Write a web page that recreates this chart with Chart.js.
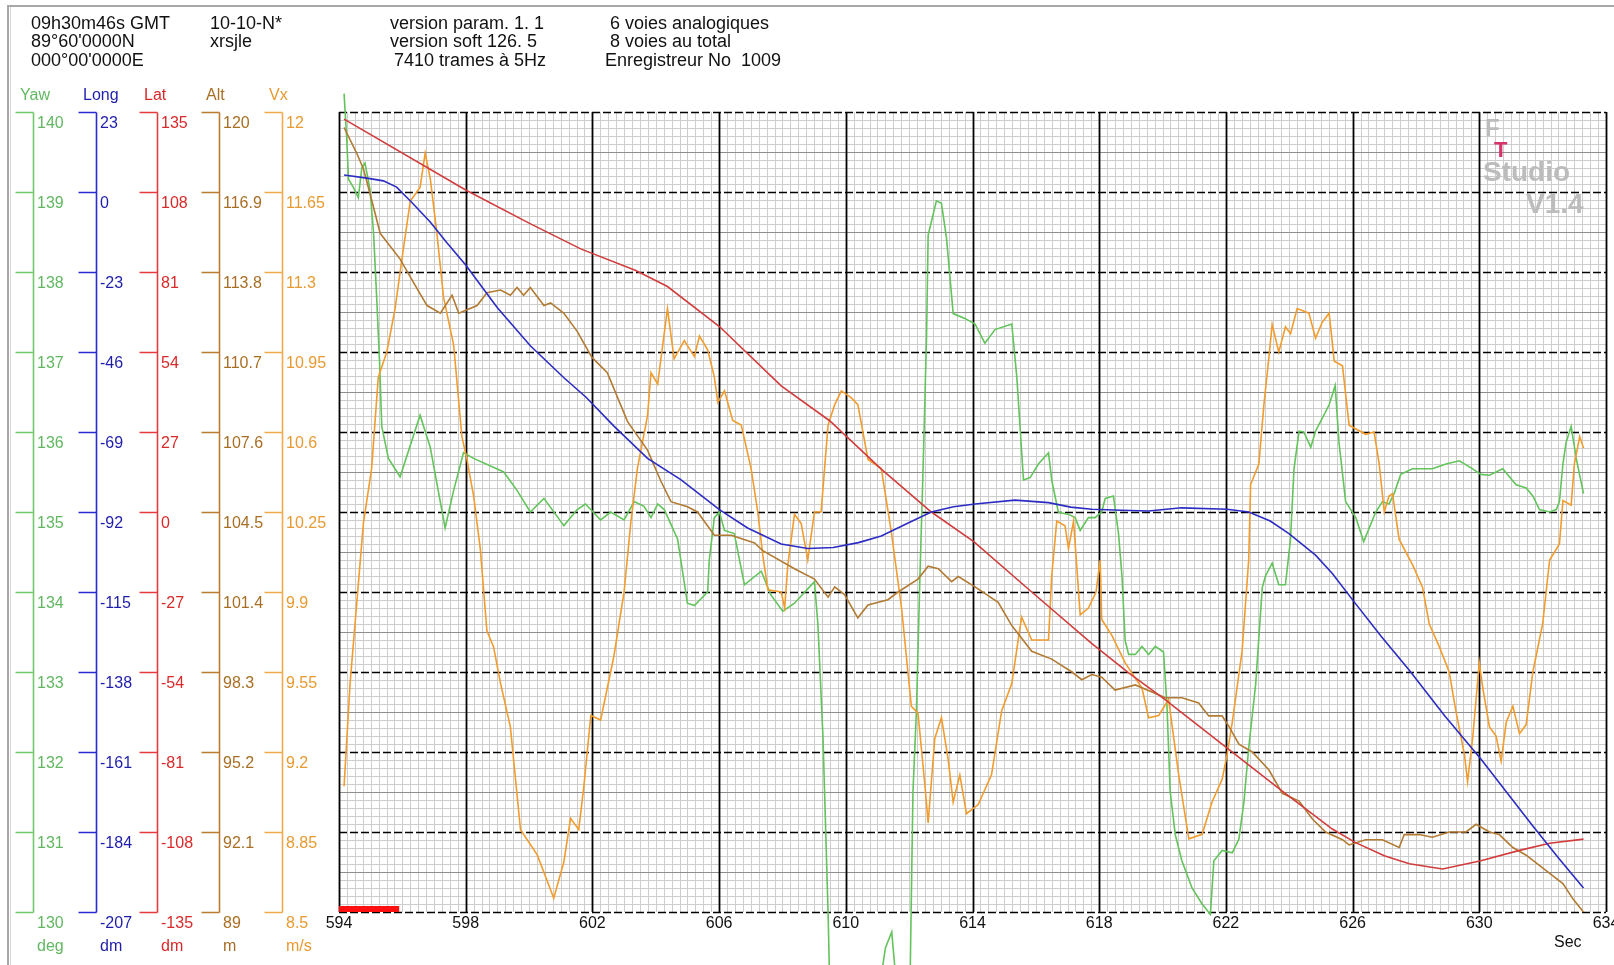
<!DOCTYPE html>
<html>
<head>
<meta charset="utf-8">
<title>Enregistreur 1009</title>
<script src="https://cdn.jsdelivr.net/npm/chart.js@4.4.1/dist/chart.umd.min.js"></script>
<style>
    html, body { margin: 0; padding: 0; background: #fff; }
    body { width: 1614px; height: 965px; position: relative; overflow: hidden;
           font-family: "Liberation Sans", Arial, sans-serif; }
    #scope { position: absolute; left: 0; top: 0; }
    .t { position: absolute; white-space: pre; line-height: 1; }
    .hd { font-size: 18px; color: #111; }
    .ax { font-size: 16px; }
    .logo { font-weight: bold; color: #bcbcbc; }
    .frame { position: absolute; background: #a8a8a8; }
</style>
</head>
<body>
<div class="frame" style="left:7px; top:5px; width:1607px; height:2px;"></div>
<div class="frame" style="left:7px; top:5px; width:2px; height:960px;"></div>
<div class="frame" style="left:10px; top:7px; width:1px; height:958px; background:#d8d8d8;"></div>

<canvas id="scope" width="1614" height="965"></canvas>

<!-- en-tête de l'enregistrement -->
<div class="t hd" style="left:31px; top:14px;">09h30m46s GMT</div>
<div class="t hd" style="left:31px; top:32px;">89°60'0000N</div>
<div class="t hd" style="left:31px; top:51px;">000°00'0000E</div>
<div class="t hd" style="left:210px; top:14px;">10-10-N*</div>
<div class="t hd" style="left:210px; top:32px;">xrsjle</div>
<div class="t hd" style="left:390px; top:14px;">version param. 1. 1</div>
<div class="t hd" style="left:390px; top:32px;">version soft 126. 5</div>
<div class="t hd" style="left:394px; top:51px;">7410 trames à 5Hz</div>
<div class="t hd" style="left:610px; top:14px;">6 voies analogiques</div>
<div class="t hd" style="left:610px; top:32px;">8 voies au total</div>
<div class="t hd" style="left:605px; top:51px;">Enregistreur No  1009</div>

<div class="t ax" style="left:1554px; top:934px; color:#111;">Sec</div>

<!-- logo -->
<div class="t logo" style="left:1485px; top:116px; font-size:24px;">F</div>
<div class="t logo" style="left:1494px; top:139px; font-size:22px; color:#d8336c;">T</div>
<div class="t logo" style="left:1483px; top:158px; font-size:28px;">Studio</div>
<div class="t logo" style="left:1526px; top:190px; font-size:28px;">V1.4</div>

<div id="axisText"></div>

<script>
// graduations des axes
const secTicks = [594, 598, 602, 606, 610, 614, 618, 622, 626, 630, 634];
const yawTicks  = [140, 139, 138, 137, 136, 135, 134, 133, 132, 131, 130];
const longTicks = [23, 0, -23, -46, -69, -92, -115, -138, -161, -184, -207];
const latTicks  = [135, 108, 81, 54, 27, 0, -27, -54, -81, -108, -135];
const altTicks  = [120, 116.9, 113.8, 110.7, 107.6, 104.5, 101.4, 98.3, 95.2, 92.1, 89];
const vxTicks   = [12, 11.65, 11.3, 10.95, 10.6, 10.25, 9.9, 9.55, 9.2, 8.85, 8.5];

// Yaw (deg)
const yawTime = [594.16, 594.24, 594.30, 594.45, 594.61, 594.72, 594.82, 594.98, 595.09, 595.19, 595.28, 595.35, 595.56, 595.93,
    596.56, 596.88, 597.35, 597.62, 597.93, 598.25, 599.2, 599.62, 600.04, 600.47, 601.1, 601.52, 601.78, 602.26, 602.58, 603.0,
    603.32, 603.63, 603.85, 604.06, 604.27, 604.69, 605.0, 605.22, 605.64, 605.69, 605.85, 606.01, 606.17, 606.48, 606.8, 607.33,
    607.64, 608.01, 608.38, 609.01, 609.12, 609.28, 609.44, 609.52, 610.9, 611.25, 611.45, 611.55, 611.65, 611.95, 612.02, 612.12,
    612.23, 612.34, 612.44, 612.55, 612.6, 612.86, 613.02, 613.18, 613.39, 613.76, 614.08, 614.39, 614.71, 615.24, 615.4, 615.61,
    615.82, 616.08, 616.4, 616.5, 616.71, 617.03, 617.24, 617.4, 617.66, 617.87, 618.08, 618.19, 618.45, 618.61, 618.72, 618.82,
    618.93, 619.14, 619.35, 619.56, 619.77, 620.03, 620.14, 620.24, 620.4, 620.61, 620.93, 621.25, 621.51, 621.62, 621.88, 622.2,
    622.41, 622.57, 622.72, 622.94, 623.15, 623.25, 623.46, 623.67, 623.88, 624.04, 624.15, 624.31, 624.46, 624.68, 624.83, 625.04,
    625.26, 625.45, 625.57, 625.78, 626.1, 626.35, 626.73, 626.94, 627.15, 627.31, 627.52, 627.89, 628.52, 628.95, 629.37, 629.79,
    630.05, 630.32, 630.74, 631.16, 631.48, 631.69, 631.9, 632.22, 632.43, 632.53, 632.64, 632.74, 632.9, 633.06, 633.29];
const yawValues = [140.23, 139.7, 139.16, 139.06, 138.93, 139.3, 139.36, 139.03, 138.49, 137.68, 136.88, 136.07, 135.67, 135.44,
    136.21, 135.81, 134.8, 135.27, 135.74, 135.67, 135.5, 135.27, 135.0, 135.17, 134.83, 135.03, 135.1, 134.9, 135.0, 134.9,
    135.13, 135.07, 134.93, 135.1, 135.03, 134.66, 133.86, 133.83, 134.0, 134.4, 134.93, 135.0, 134.77, 134.73, 134.09, 134.26,
    133.96, 133.76, 133.86, 134.13, 133.59, 132.18, 130.0, 128.6, 128.6, 129.55, 129.75, 129.3, 128.6, 128.6, 128.9, 131.5,
    132.52, 134.19, 135.54, 137.21, 138.46, 138.89, 138.86, 138.42, 137.48, 137.42, 137.35, 137.11, 137.28, 137.35, 136.68, 135.4,
    135.43, 135.6, 135.74, 135.4, 135.0, 134.97, 134.93, 134.77, 134.93, 134.93, 135.0, 135.17, 135.2, 134.73, 134.19, 133.39,
    133.22, 133.22, 133.32, 133.22, 133.32, 133.25, 132.58, 131.51, 130.97, 130.64, 130.3, 130.1, 129.97, 130.64, 130.77, 130.74,
    130.91, 131.38, 132.05, 132.85, 134.06, 134.2, 134.36, 134.09, 134.09, 134.66, 135.54, 136.01, 136.0, 135.81, 136.01, 136.17,
    136.34, 136.58, 135.87, 135.13, 134.93, 134.63, 135.0, 135.13, 135.1, 135.23, 135.47, 135.54, 135.54, 135.6, 135.64, 135.54,
    135.47, 135.46, 135.54, 135.34, 135.3, 135.2, 135.03, 135.0, 135.03, 135.13, 135.6, 135.87, 136.07, 135.67, 135.23];

// Long (dm)
const longTime = [594.16, 594.88, 595.4, 595.82, 596.3, 596.88, 597.4, 598.0, 599.0, 600.04, 601.1, 601.8, 602.68, 603.74,
    604.79, 606.01, 606.9, 607.96, 608.8, 609.6, 610.4, 611.12, 612.0, 612.7, 613.4, 614.08, 615.34, 616.4, 617.1, 617.77,
    618.7, 619.56, 620.6, 622.04, 622.72, 623.4, 623.99, 624.83, 625.36, 626.08, 626.9, 627.79, 628.9, 630.05, 630.9, 631.69,
    632.5, 633.29];
const longValues = [4.9, 4.0, 3.2, 1.4, -3.0, -8.6, -14.5, -21.0, -33.3, -44.2, -53.4, -59.0, -67.3, -76.6,
    -82.7, -91.3, -96.6, -101.2, -102.5, -102.2, -100.8, -98.9, -95.0, -92.0, -90.5, -89.7, -88.6, -89.3, -90.6, -91.2,
    -91.5, -91.7, -90.8, -91.2, -92.0, -94.6, -98.2, -104.4, -109.7, -118.2, -127.7, -137.5, -150.5, -163.0, -173.0, -182.3,
    -191.5, -200.1];

// Lat (dm)
const latTime = [594.16, 598.0, 600.0, 601.63, 603.37, 604.37, 606.01, 607.96, 609.49, 611.12, 612.7, 614.04, 615.87, 617.77,
    618.93, 620.09, 622.04, 623.78, 625.36, 626.08, 627.0, 627.79, 628.84, 630.05, 631.27, 632.22, 633.29];
const latValues = [132.6, 108.7, 97.5, 88.8, 81.5, 76.1, 62.6, 42.6, 30.8, 14.5, 0, -10, -27, -44.4,
    -54.3, -63.4, -79.7, -94.2, -107, -111.5, -116.0, -118.7, -120.5, -117.7, -114.2, -111.8, -110.4];

// Alt (m)
const altTime = [594.16, 594.56, 594.77, 595.03, 595.3, 595.93, 596.35, 596.78, 597.2, 597.57, 597.78, 598.36, 598.67, 599.1,
    599.41, 599.62, 599.83, 600.04, 600.47, 600.68, 601.1, 601.52, 601.98, 602.47, 603.11, 603.74, 604.16, 604.48, 605.0, 605.32,
    605.85, 606.38, 607.12, 607.38, 608.38, 609.01, 609.44, 609.65, 609.96, 610.38, 610.7, 611.33, 611.65, 612.28, 612.6, 612.92,
    613.34, 613.55, 614.08, 614.81, 615.24, 615.87, 616.5, 617.14, 617.45, 617.77, 618.08, 618.5, 619.14, 620.09, 620.61, 621.14,
    621.46, 621.88, 622.09, 622.41, 622.83, 623.36, 623.78, 624.31, 624.73, 625.15, 625.68, 625.89, 626.41, 626.94, 627.47, 627.63,
    628.1, 628.52, 629.05, 629.58, 629.9, 630.32, 630.63, 631.06, 631.48, 632.11, 632.64, 632.96, 633.29];
const altValues = [119.4, 118.4, 117.8, 116.6, 115.3, 114.3, 113.4, 112.5, 112.2, 112.9, 112.2, 112.5, 113.0, 113.1,
    112.9, 113.2, 112.9, 113.2, 112.5, 112.6, 112.2, 111.5, 110.5, 109.9, 108.0, 106.9, 105.7, 104.9, 104.7, 104.5,
    103.6, 103.6, 103.3, 103.0, 102.3, 101.9, 101.2, 101.6, 101.3, 100.4, 100.9, 101.1, 101.4, 101.9, 102.4, 102.3,
    101.8, 102.0, 101.6, 101.0, 100.1, 99.1, 98.8, 98.3, 98.0, 98.2, 98.1, 97.6, 97.8, 97.3, 97.3, 97.1,
    96.6, 96.6, 96.2, 95.5, 95.2, 94.5, 93.6, 93.3, 92.6, 92.1, 91.8, 91.6, 91.8, 91.8, 91.5, 92.0,
    92.0, 91.9, 92.1, 92.1, 92.4, 92.1, 92.0, 91.5, 91.2, 90.6, 90.1, 89.5, 89.0];

// Vx (m/s)
const vxTime = [594.16, 594.35, 594.56, 594.77, 595.03, 595.24, 595.51, 595.77, 595.98, 596.25, 596.56, 596.72, 596.88, 597.09,
    597.3, 597.62, 597.88, 598.04, 598.25, 598.46, 598.67, 598.88, 599.1, 599.41, 599.73, 600.26, 600.78, 601.1, 601.31, 601.57,
    601.73, 601.95, 602.26, 602.68, 603.0, 603.21, 603.42, 603.74, 603.85, 604.06, 604.37, 604.58, 604.9, 605.22, 605.38, 605.64,
    605.85, 605.96, 606.17, 606.43, 606.7, 607.01, 607.22, 607.38, 607.54, 607.96, 608.07, 608.17, 608.38, 608.59, 608.8, 609.01,
    609.22, 609.44, 609.65, 609.86, 610.17, 610.38, 610.7, 611.12, 611.44, 611.76, 612.07, 612.28, 612.5, 612.6, 612.81, 613.02,
    613.23, 613.39, 613.6, 613.81, 614.18, 614.6, 614.92, 615.24, 615.55, 615.87, 616.4, 616.5, 616.66, 616.92, 617.03, 617.19,
    617.4, 617.66, 617.9, 618.03, 618.08, 618.4, 618.82, 619.35, 619.56, 619.88, 620.19, 620.51, 620.83, 621.25, 621.56, 621.88,
    622.04, 622.2, 622.51, 622.72, 622.78, 623.04, 623.2, 623.36, 623.46, 623.67, 623.88, 624.04, 624.25, 624.62, 624.83, 625.04,
    625.26, 625.42, 625.68, 625.89, 626.41, 626.68, 626.84, 627.0, 627.15, 627.26, 627.47, 627.89, 628.21, 628.42, 628.74, 629.05,
    629.26, 629.53, 629.63, 629.79, 630.0, 630.11, 630.32, 630.53, 630.69, 630.85, 631.06, 631.27, 631.48, 631.69, 632.0, 632.22,
    632.53, 632.64, 632.9, 633.0, 633.17, 633.29];
const vxValues = [9.05, 9.50, 9.85, 10.20, 10.44, 10.84, 10.95, 11.14, 11.35, 11.61, 11.67, 11.82, 11.71, 11.47,
    11.19, 10.98, 10.58, 10.48, 10.32, 10.09, 9.73, 9.66, 9.50, 9.31, 8.86, 8.75, 8.56, 8.72, 8.91, 8.86,
    9.05, 9.36, 9.34, 9.62, 9.90, 10.20, 10.44, 10.67, 10.86, 10.81, 11.14, 10.92, 11.0, 10.93, 11.02, 10.96,
    10.84, 10.73, 10.78, 10.65, 10.63, 10.44, 10.25, 10.06, 9.91, 9.90, 9.83, 10.02, 10.24, 10.20, 10.04, 10.25,
    10.25, 10.63, 10.72, 10.78, 10.75, 10.72, 10.48, 10.44, 10.16, 9.83, 9.40, 9.37, 9.05, 8.89, 9.26, 9.35,
    9.17, 8.98, 9.10, 8.93, 8.97, 9.10, 9.38, 9.50, 9.79, 9.69, 9.69, 9.97, 10.21, 10.19, 10.09, 10.21,
    9.80, 9.83, 9.90, 10.04, 9.78, 9.71, 9.59, 9.48, 9.35, 9.36, 9.43, 9.10, 8.82, 8.84, 8.98, 9.08,
    9.19, 9.33, 9.64, 10.04, 10.37, 10.46, 10.72, 10.93, 11.07, 10.95, 11.06, 11.03, 11.14, 11.12, 11.01, 11.08,
    11.12, 10.91, 10.89, 10.63, 10.59, 10.60, 10.46, 10.25, 10.32, 10.33, 10.13, 10.02, 9.92, 9.76, 9.66, 9.55,
    9.38, 9.19, 9.07, 9.26, 9.59, 9.48, 9.31, 9.27, 9.16, 9.33, 9.40, 9.28, 9.32, 9.55, 9.76, 10.04,
    10.11, 10.30, 10.28, 10.46, 10.58, 10.53];

// curseur rouge (début / fin de la fenêtre, en secondes)
const cursorSpan = [594, 595.9];

const FONT = '"Liberation Sans", Arial, sans-serif';

// les 5 échelles verticales dessinées à gauche
const axisDefs = [
    { id: 'yaw',  name: 'Yaw',  unit: 'deg', ticks: yawTicks,  x: 33,  line: '#72c86c', text: '#62b862' },
    { id: 'long', name: 'Long', unit: 'dm',  ticks: longTicks, x: 96,  line: '#2a2ad2', text: '#1e1eaa' },
    { id: 'lat',  name: 'Lat',  unit: 'dm',  ticks: latTicks,  x: 157, line: '#e43c3c', text: '#d82a2a' },
    { id: 'alt',  name: 'Alt',  unit: 'm',   ticks: altTicks,  x: 219, line: '#b87c30', text: '#a86e24' },
    { id: 'vx',   name: 'Vx',   unit: 'm/s', ticks: vxTicks,   x: 282, line: '#f0aa4c', text: '#e89a32' }
];

// noms et unités en texte HTML
const axisText = document.getElementById('axisText');
axisDefs.forEach(a => {
    const n = document.createElement('div');
    n.className = 't ax';
    n.style.cssText = `left:${a.x - 13}px; top:87px; color:${a.text};`;
    n.textContent = a.name;
    axisText.appendChild(n);
    const u = document.createElement('div');
    u.className = 't ax';
    u.style.cssText = `left:${a.x + 4}px; top:938px; color:${a.text};`;
    u.textContent = a.unit;
    axisText.appendChild(u);
});

function toPoints(times, values) {
    return times.map((t, i) => ({ x: t, y: values[i] }));
}

// grille façon oscilloscope
const scopeGrid = {
    id: 'scopeGrid',
    beforeDatasetsDraw(chart) {
        const { ctx, chartArea: a, scales } = chart;
        const x = scales.x, y = scales.yaw;
        const x0 = secTicks[0], x1 = secTicks[secTicks.length - 1];
        const yMin = yawTicks[yawTicks.length - 1], yMax = yawTicks[0];
        ctx.save();
        ctx.lineWidth = 1;

        // fines verticales tous les 0.25 s
        ctx.strokeStyle = '#cdcdcd';
        ctx.beginPath();
        for (let i = 0; i <= (x1 - x0) * 4; i++) {
            const px = Math.round(x.getPixelForValue(x0 + i / 4)) + 0.5;
            ctx.moveTo(px, a.top); ctx.lineTo(px, a.bottom);
        }
        ctx.stroke();

        // fines horizontales tous les 0.1
        for (let j = 0; j <= (yMax - yMin) * 10; j++) {
            if (j % 10 === 0) continue;
            const py = Math.round(y.getPixelForValue(yMin + j / 10)) + 0.5;
            ctx.strokeStyle = (j % 5 === 0) ? '#8e8e8e' : '#cdcdcd';
            ctx.beginPath();
            ctx.moveTo(a.left, py); ctx.lineTo(a.right, py);
            ctx.stroke();
        }

        // horizontales principales en tirets
        ctx.strokeStyle = '#000';
        ctx.lineWidth = 1.5;
        ctx.setLineDash([8, 3]);
        yawTicks.forEach(v => {
            const py = Math.round(y.getPixelForValue(v)) + 0.5;
            ctx.beginPath();
            ctx.moveTo(a.left, py); ctx.lineTo(a.right, py);
            ctx.stroke();
        });
        ctx.setLineDash([]);

        // verticales principales
        ctx.lineWidth = 1.8;
        secTicks.forEach(v => {
            const px = Math.round(x.getPixelForValue(v)) + 0.5;
            ctx.beginPath();
            ctx.moveTo(px, a.top); ctx.lineTo(px, a.bottom);
            ctx.stroke();
        });
        ctx.restore();
    },
    afterDatasetsDraw(chart) {
        const { ctx, chartArea: a, scales } = chart;
        const xs = scales.x.getPixelForValue(cursorSpan[0]);
        const xe = scales.x.getPixelForValue(cursorSpan[1]);
        ctx.save();
        ctx.fillStyle = '#ff1010';
        ctx.fillRect(xs, a.bottom - 6, xe - xs, 6);
        ctx.restore();
    }
};

// échelles latérales avec crochets
const sideAxes = {
    id: 'sideAxes',
    afterDraw(chart) {
        const ctx = chart.ctx;
        ctx.save();
        ctx.font = '16px ' + FONT;
        ctx.textBaseline = 'alphabetic';
        axisDefs.forEach(a => {
            const s = chart.scales[a.id];
            const lx = a.x + 0.5;
            const top = Math.round(s.getPixelForValue(a.ticks[0])) + 0.5;
            const bot = Math.round(s.getPixelForValue(a.ticks[a.ticks.length - 1])) + 0.5;
            ctx.strokeStyle = a.line;
            ctx.lineWidth = 1.6;
            ctx.beginPath();
            ctx.moveTo(lx, top); ctx.lineTo(lx, bot);
            a.ticks.forEach(v => {
                const py = Math.round(s.getPixelForValue(v)) + 0.5;
                ctx.moveTo(lx - 18, py); ctx.lineTo(lx, py);
            });
            ctx.stroke();
            ctx.fillStyle = a.text;
            a.ticks.forEach(v => {
                const py = s.getPixelForValue(v);
                ctx.fillText(String(v), a.x + 4, py + 15.5);
            });
        });
        ctx.restore();
    }
};

Chart.defaults.font.family = FONT;

function lineSet(label, times, values, axis, color) {
    return {
        label: label,
        data: toPoints(times, values),
        yAxisID: axis,
        borderColor: color,
        borderWidth: 1.6,
        pointRadius: 0,
        tension: 0,
        clip: false
    };
}

function hiddenScale(ticks) {
    return { type: 'linear', display: false, min: ticks[ticks.length - 1], max: ticks[0] };
}

new Chart(document.getElementById('scope'), {
    type: 'line',
    data: {
        datasets: [
            lineSet('Long', longTime, longValues, 'long', '#2c2cc4'),
            lineSet('Lat', latTime, latValues, 'lat', '#d23c3c'),
            lineSet('Alt', altTime, altValues, 'alt', '#b27a32'),
            lineSet('Vx', vxTime, vxValues, 'vx', '#f39c2e'),
            lineSet('Yaw', yawTime, yawValues, 'yaw', '#62c45a')
        ]
    },
    options: {
        responsive: false,
        animation: false,
        devicePixelRatio: 1,
        layout: { padding: { left: 339, top: 112, right: 8, bottom: 0 } },
        plugins: { legend: { display: false }, tooltip: { enabled: false } },
        scales: {
            x: {
                type: 'linear',
                min: secTicks[0],
                max: secTicks[secTicks.length - 1],
                afterBuildTicks: s => { s.ticks = secTicks.map(v => ({ value: v })); },
                afterFit: s => { s.height = 53; s.paddingLeft = 0; s.paddingRight = 0; },
                grid: { display: false, drawTicks: false },
                border: { display: false },
                ticks: { color: '#111', font: { size: 16 }, padding: 2, maxRotation: 0, autoSkip: false }
            },
            yaw: hiddenScale(yawTicks),
            long: hiddenScale(longTicks),
            lat: hiddenScale(latTicks),
            alt: hiddenScale(altTicks),
            vx: hiddenScale(vxTicks)
        }
    },
    plugins: [scopeGrid, sideAxes]
});
</script>
</body>
</html>
